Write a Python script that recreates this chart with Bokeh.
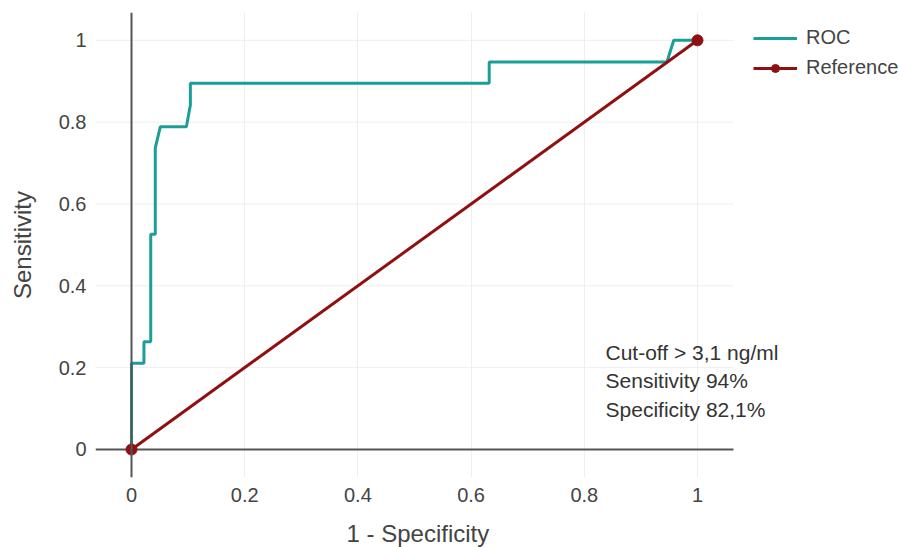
from bokeh.plotting import figure
from bokeh.models import Span, Legend, LegendItem, Label, FixedTicker, Title
from bokeh.embed import file_html
from bokeh.resources import INLINE

# ROC curve (1 - specificity, sensitivity)
roc_fpr = [0.0, 0.0, 0.022, 0.022, 0.034, 0.034, 0.042, 0.042, 0.051, 0.097, 0.104, 0.104, 0.632, 0.632, 0.946, 0.958, 1.0]
roc_tpr = [0.0, 0.2105, 0.2105, 0.263, 0.263, 0.526, 0.526, 0.737, 0.789, 0.789, 0.842, 0.895, 0.895, 0.947, 0.947, 1.0, 1.0]
ref_x = [0.0, 1.0]
ref_y = [0.0, 1.0]
tick_values = [0, 0.2, 0.4, 0.6, 0.8, 1]
tick_labels = ["0", "0.2", "0.4", "0.6", "0.8", "1"]
annotation_lines = ["Cut-off \u02c3 3,1 ng/ml", "Sensitivity 94%", "Specificity 82,1%"]
x_title = "1 - Specificity"
y_title = "Sensitivity"

FONT = "Liberation Sans"
TEAL = "#1b9e9a"
RED = "#8f1010"

X0, X1 = -0.0636, 1.0636      # visible axis extent
Y0, Y1 = -0.0685, 1.068
X_FRAME_END = X0 + 804 / 566.0  # frame reaches the right edge for legend/annotation room

p = figure(width=899, height=547, frame_width=804, frame_height=465,
           output_backend="svg", toolbar_location=None,
           x_range=(X0, X_FRAME_END), y_range=(Y0, Y1),
           min_border_left=95, min_border_top=12, min_border_right=0, min_border_bottom=70)
p.outline_line_color = None
p.background_fill_color = "white"

for ax in (p.xaxis[0], p.yaxis[0]):
    ax.axis_line_color = None
    ax.major_tick_line_color = None
    ax.minor_tick_line_color = None
    ax.major_label_text_font = FONT
    ax.major_label_text_font_size = "20px"
    ax.major_label_text_color = "#444444"
    ax.axis_label_text_font = FONT
    ax.axis_label_text_font_size = "24px"
    ax.axis_label_text_font_style = "normal"
    ax.axis_label_text_color = "#444444"
    ax.ticker = FixedTicker(ticks=tick_values)
    ax.major_label_overrides = {v: l for v, l in zip(tick_values, tick_labels)}

p.xaxis.bounds = (X0, X1)
p.yaxis.axis_label = y_title
p.xaxis.major_label_standoff = 4
p.yaxis.major_label_standoff = 3
p.yaxis.axis_label_standoff = 20

# x-axis title positioned under the visible axis extent
p.add_layout(Title(text=x_title, align="left", offset=251, text_font=FONT, text_font_size="24px",
                   text_font_style="normal", text_color="#444444", standoff=26), "below")

p.xgrid.grid_line_color = "#eeeeee"
p.xgrid.grid_line_width = 1
p.ygrid.grid_line_color = None

# horizontal grid lines limited to the visible x extent
p.segment(x0=[X0] * len(tick_values), x1=[X1] * len(tick_values), y0=tick_values, y1=tick_values,
          line_color="#eeeeee", line_width=1)
# zero lines
p.segment(x0=[X0], x1=[X1], y0=[0], y1=[0], line_color="#555555", line_width=2)
p.add_layout(Span(location=0, dimension="height", line_color="#555555", line_width=2))

roc = p.line(roc_fpr, roc_tpr, line_color=TEAL, line_width=3)
ref_line = p.line(ref_x, ref_y, line_color=RED, line_width=3)
ref_pts = p.scatter(ref_x, ref_y, size=11, fill_color=RED, line_color=RED)

legend = Legend(items=[LegendItem(label="ROC", renderers=[roc]),
                       LegendItem(label="Reference", renderers=[ref_line, ref_pts])],
                location=(658, 398), orientation="vertical",
                background_fill_alpha=0, border_line_color=None,
                label_text_font=FONT, label_text_font_size="20px", label_text_color="#444444",
                glyph_width=44, label_standoff=9, spacing=7, padding=0, margin=0)
p.add_layout(legend, "center")

for i, txt in enumerate(annotation_lines):
    p.add_layout(Label(x=0.8375, y=0.237 - i * 0.0695, text=txt, text_font=FONT,
                       text_font_size="21px", text_color="#333333", text_baseline="middle"))

open("out.html", "w").write(file_html(p, INLINE))
